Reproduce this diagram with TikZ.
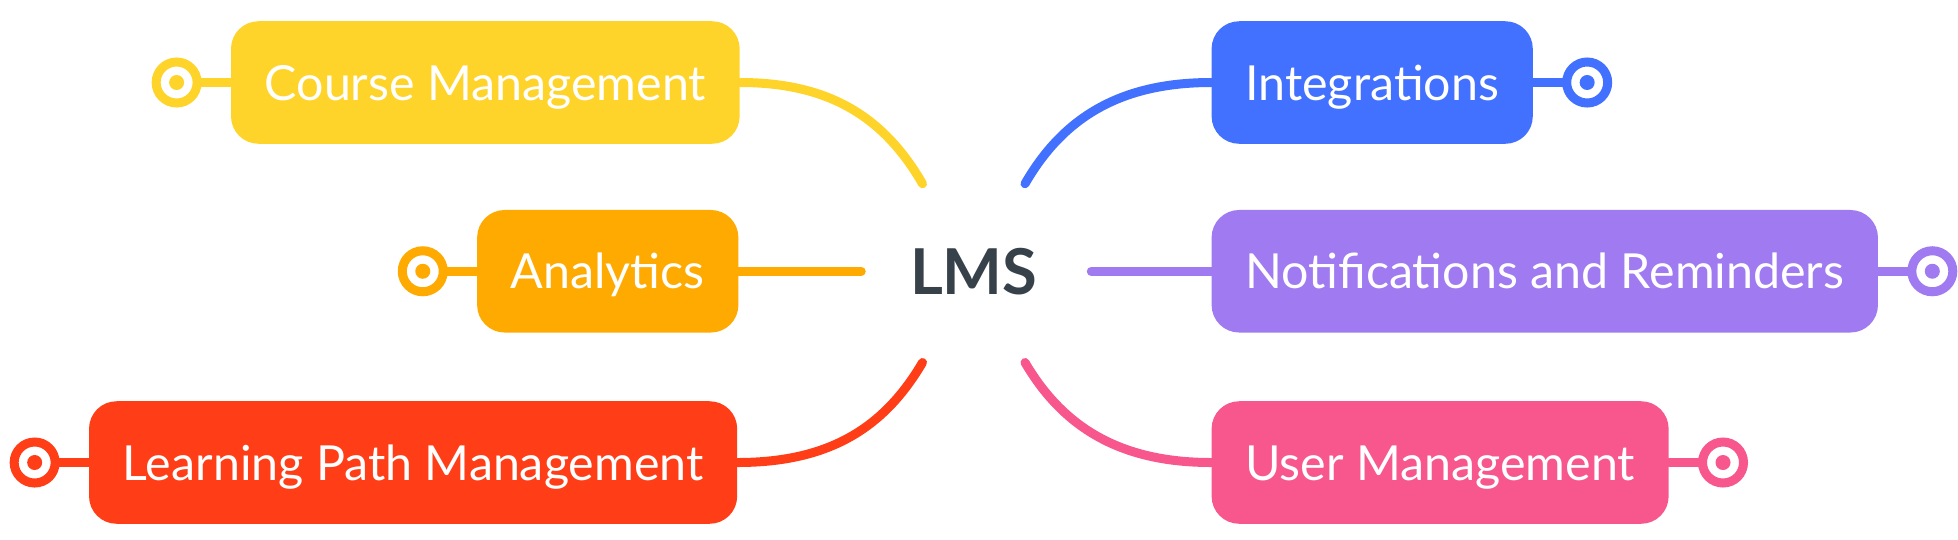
\documentclass[tikz,border=0pt]{standalone}
\usepackage{fontspec}
\setmainfont{Lato}
\usetikzlibrary{positioning,backgrounds}
\definecolor{cmyellow}{HTML}{FFD42A}
\definecolor{anorange}{HTML}{FFAA00}
\definecolor{lpred}{HTML}{FF3E18}
\definecolor{inblue}{HTML}{4270FF}
\definecolor{nrpurple}{HTML}{A07AF0}
\definecolor{umpink}{HTML}{F7578C}
\definecolor{lmsgray}{HTML}{37414A}
\tikzset{
  topic/.style={fill=#1, rounded corners=0.55cm, minimum height=2.45cm,
    inner xsep=0.675cm, text=white, text height=0.7cm, text depth=0cm,
    font=\fontsize{27.5}{33}\selectfont},
  hub/.style={circle, draw=#1, fill=white, line width=0.18cm,
    minimum size=0.82cm, inner sep=0pt},
  link/.style={draw=#1, line width=0.18cm, line cap=round},
}
\newcommand{\hubdot}[2]{\fill[#1] (#2) circle (0.15cm);}

\begin{document}
\begin{tikzpicture}[x=0.025cm,y=-0.025cm]
  \useasboundingbox (0,0) rectangle (1566.4,431.2);
  \node[font=\bfseries\fontsize{36}{43}\selectfont, text=lmsgray,
        text height=0.92cm, text depth=0cm] (lms) at (779,217) {LMS};
  % left side
  \node[topic=cmyellow, anchor=east] (cm) at (592,66) {Course Management};
  \node[topic=anorange, anchor=east] (an) at (591,217) {Analytics};
  \node[topic=lpred, anchor=east] (lp) at (590,370) {Learning Path Management};
  % right side
  \node[topic=inblue, anchor=west] (in) at (969,66) {Integrations};
  \node[topic=nrpurple, anchor=west] (nr) at (969,217) {Notifications and Reminders};
  \node[topic=umpink, anchor=west] (um) at (969,370) {User Management};
  % end hubs
  \node[hub=cmyellow, left=0.58cm of cm] (cmhub) {};
  \node[hub=anorange, left=0.58cm of an] (anhub) {};
  \node[hub=lpred, left=0.58cm of lp] (lphub) {};
  \node[hub=inblue, right=0.58cm of in] (inhub) {};
  \node[hub=nrpurple, right=0.58cm of nr] (nrhub) {};
  \node[hub=umpink, right=0.58cm of um] (umhub) {};
  \hubdot{cmyellow}{cmhub} \hubdot{anorange}{anhub} \hubdot{lpred}{lphub}
  \hubdot{inblue}{inhub} \hubdot{nrpurple}{nrhub} \hubdot{umpink}{umhub}
  % free ends round the centre
  \coordinate (lms-cm) at (738,147);
  \coordinate (lms-an) at (689,217);
  \coordinate (lms-lp) at (738,290);
  \coordinate (lms-in) at (820,147);
  \coordinate (lms-nr) at (873,217);
  \coordinate (lms-um) at (820,290);
  \begin{scope}[on background layer]
    \draw[link=cmyellow] (cm.east) .. controls (665,66) and (708,95) .. (lms-cm);
    \draw[link=anorange] (an.east) -- (lms-an);
    \draw[link=lpred] (lp.east) .. controls (665,370) and (708,341) .. (lms-lp);
    \draw[link=inblue] (in.west) .. controls (895,66) and (850,95) .. (lms-in);
    \draw[link=nrpurple] (nr.west) -- (lms-nr);
    \draw[link=umpink] (um.west) .. controls (895,370) and (850,341) .. (lms-um);
    \draw[link=cmyellow] (cm.west) -- (cmhub);
    \draw[link=anorange] (an.west) -- (anhub);
    \draw[link=lpred] (lp.west) -- (lphub);
    \draw[link=inblue] (in.east) -- (inhub);
    \draw[link=nrpurple] (nr.east) -- (nrhub);
    \draw[link=umpink] (um.east) -- (umhub);
  \end{scope}
\end{tikzpicture}
\end{document}
